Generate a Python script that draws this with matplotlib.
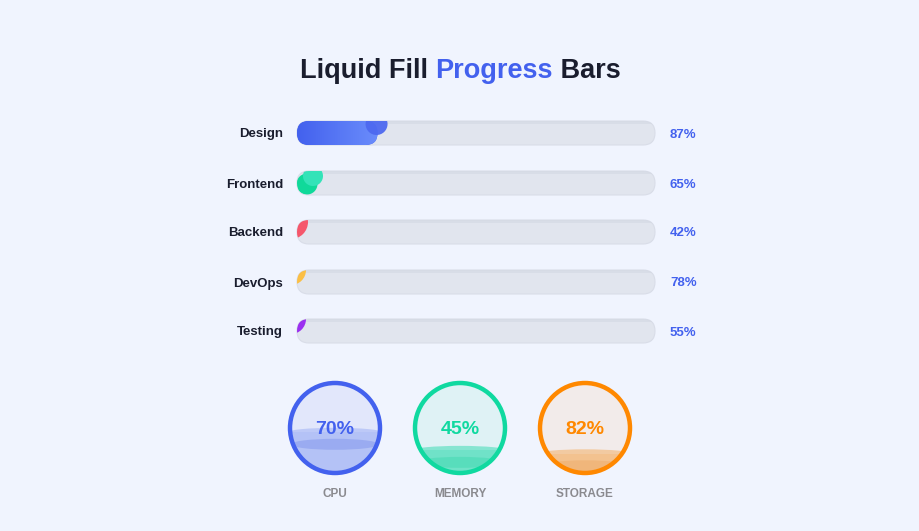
import numpy as np
import matplotlib
matplotlib.use("Agg")
import matplotlib.pyplot as plt
from matplotlib.patches import FancyBboxPatch, Circle, Ellipse, Rectangle

plt.rcParams.update({
    "font.family": ["Liberation Sans", "DejaVu Sans"],
    "font.weight": "bold",
})

BG = "#f0f4fe"
DARK = "#1a1d2e"
BLUE = "#4361ee"
TRACK = "#e1e5ee"

# ---- data ----
skills = ["Design", "Frontend", "Backend", "DevOps", "Testing"]
skill_pct = [87, 65, 42, 78, 55]
# fill visible in the captured frame (fraction of track)
skill_shown = [0.225, 0.04, 0.02, 0.015, 0.015]
skill_colors = [("#4361ee", "#6a8cfb"), ("#10d99a", "#34e3b8"),
                ("#f5576c", "#f5576c"), ("#fbbf45", "#fbbf45"),
                ("#9b30f0", "#9b30f0")]

gauges = ["CPU", "MEMORY", "STORAGE"]
gauge_pct = [70, 45, 82]
gauge_shown = [0.45, 0.24, 0.20]
gauge_ring = ["#4361ee", "#10d9a0", "#ff8800"]
gauge_bg = ["#e2e7fb", "#dff2f5", "#f2ebea"]
gauge_fill = ["#b4c2f6", "#70e2c8", "#f3c28f"]
gauge_deep = ["#8fa2ef", "#4fdcb7", "#f0b273"]

fig = plt.figure(figsize=(9.2, 5.31), dpi=100, facecolor=BG)
ax = fig.add_axes([0, 0, 1, 1])
ax.set_xlim(0, 920); ax.set_ylim(531, 0); ax.axis("off")
ax.set_facecolor(BG)

# ---- title in three colours ----
parts = [("Liquid Fill ", DARK), ("Progress", BLUE), (" Bars", DARK)]
r = fig.canvas.get_renderer()
texts = [ax.text(0, 71, s, color=c, fontsize=19.5, va="center", ha="left") for s, c in parts]
widths = []
for t in texts:
    bb = t.get_window_extent(r)
    widths.append(bb.width)
x = 460 - sum(widths) / 2
for t, w in zip(texts, widths):
    t.set_x(x); x += w

# ---- progress bars ----
x0, x1, h = 297, 655, 24
ys = [133, 183, 232, 282, 331]
for name, pct, shown, (ca, cb), y in zip(skills, skill_pct, skill_shown, skill_colors, ys):
    ax.text(283, y + 1.5, name, ha="right", va="center", fontsize=9.5, color=DARK)
    ax.text(670, y + 1.5, f"{pct}%", ha="left", va="center", fontsize=9.5, color=BLUE)
    track = FancyBboxPatch((x0, y - h / 2), x1 - x0, h, boxstyle=f"round,pad=0,rounding_size={h/2}",
                           fc=TRACK, ec="#d9dde8", lw=0.8, zorder=1)
    ax.add_patch(track)
    # soft top shadow
    sh = Rectangle((x0, y - h / 2), x1 - x0, 3, fc="#d3d8e3", ec="none", alpha=0.6, zorder=1.5)
    ax.add_patch(sh); sh.set_clip_path(track)
    w = shown * (x1 - x0)
    if w >= h:
        fill = FancyBboxPatch((x0, y - h / 2), w, h, boxstyle=f"round,pad=0,rounding_size={h/2}",
                              fc=ca, ec="none", zorder=2)
        ax.add_patch(fill)
        grad = np.linspace(0, 1, 64).reshape(1, -1)
        cmap = matplotlib.colors.LinearSegmentedColormap.from_list("g", [ca, cb])
        im = ax.imshow(grad, extent=(x0, x0 + w, y + h / 2, y - h / 2), cmap=cmap,
                       aspect="auto", zorder=2.1)
        im.set_clip_path(fill)
        blob = Circle((x0 + w - 1, y - 9), 11, fc="#4d69f0", ec="none", alpha=0.95, zorder=2.2)
        ax.add_patch(blob); blob.set_clip_path(track)
    elif shown >= 0.03:
        b1 = Circle((x0 + 10, y + 1), 10.5, fc=ca, ec="none", zorder=2)
        b2 = Circle((x0 + 16, y - 7), 10, fc=cb, ec="none", zorder=2.1)
        for b in (b1, b2):
            ax.add_patch(b); b.set_clip_path(track)
    else:
        rad = 9 + 400 * shown
        leaf = Circle((x0 - 6, y - 12 + (rad - 15)), rad, fc=ca, ec="none", zorder=2)
        ax.add_patch(leaf); leaf.set_clip_path(track)

# ---- circular gauges ----
cy, R, ring = 428, 47, 4
cxs = [335, 460, 585]
for name, pct, shown, rc, bgc, fc, dc, cx in zip(gauges, gauge_pct, gauge_shown, gauge_ring,
                                                   gauge_bg, gauge_fill, gauge_deep, cxs):
    inner = Circle((cx, cy), R - ring / 2, fc=bgc, ec="none", zorder=1)
    ax.add_patch(inner)
    ri = R - ring
    level = cy + ri - shown * 2 * ri
    liquid = Rectangle((cx - R, level), 2 * R, cy + R - level, fc=fc, ec="none", zorder=2)
    top = Ellipse((cx, level), 2 * R, 9, fc=fc, ec="none", alpha=0.8, zorder=2.1)
    deep = Ellipse((cx, level + 12), 2 * R - 6, 11, fc=dc, ec="none", alpha=0.7, zorder=2.2)
    for p in (liquid, top, deep):
        ax.add_patch(p); p.set_clip_path(inner)
    ax.add_patch(Circle((cx, cy), R - ring / 2, fc="none", ec=rc, lw=3.2, zorder=3))
    ax.text(cx, cy + 1, f"{pct}%", ha="center", va="center", fontsize=14, color=rc, zorder=4)
    ax.text(cx, 494, name, ha="center", va="center", fontsize=8.5, color="#8a8a8f")

fig.savefig("out.png", dpi=100, facecolor=BG)
